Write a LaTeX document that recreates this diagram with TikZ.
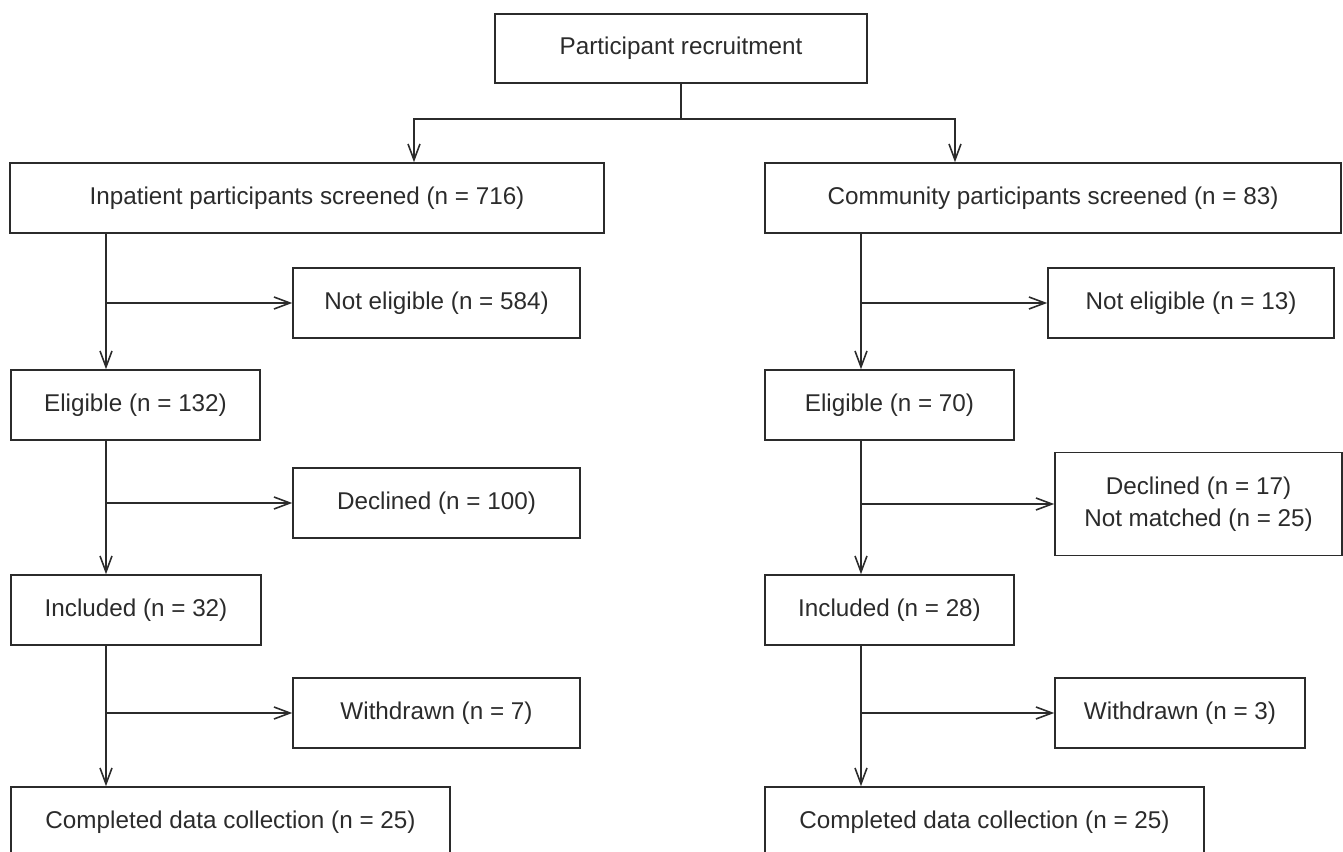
\documentclass[tikz,border=0pt]{standalone}
\usepackage{fontspec}
\setmainfont{Liberation Sans}
\usepackage{xcolor}
\usetikzlibrary{arrows.meta}
\definecolor{inkgray}{HTML}{2B2B2B}

\begin{document}
\begin{tikzpicture}[box/.style={draw=inkgray, line width=0.9pt, text=inkgray, align=center,
      font=\fontsize{13.8}{18.2}\selectfont, minimum height=1.4cm},
    link/.style={draw=inkgray, line width=0.9pt},
    arr/.style={link, -{Straight Barb[length=3.2mm,width=2.4mm]}}]
    \useasboundingbox (0,0) rectangle (26.86,-17.04);
    \node [box, minimum width=7.44cm, minimum height=1.38cm] (rec) at (13.62,-0.97) {Participant recruitment};
    \node [box, minimum width=11.88cm] (inp) at (6.14,-3.96) {Inpatient participants screened (n = 716)};
    \node [box, minimum width=11.52cm] (com) at (21.06,-3.96) {Community participants screened (n = 83)};
    % inpatient side
    \node [box, minimum width=5.74cm] (neL) at (8.73,-6.06) {Not eligible (n = 584)};
    \node [box, minimum width=4.98cm] (elL) at (2.71,-8.10) {Eligible (n = 132)};
    \node [box, minimum width=5.74cm] (deL) at (8.73,-10.06) {Declined (n = 100)};
    \node [box, minimum width=5.00cm] (inL) at (2.72,-12.20) {Included (n = 32)};
    \node [box, minimum width=5.74cm] (wdL) at (8.73,-14.26) {Withdrawn (n = 7)};
    \node [box, minimum width=8.78cm] (coL) at (4.61,-16.44) {Completed data collection (n = 25)};
    % community side
    \node [box, minimum width=5.72cm] (neR) at (23.82,-6.06) {Not eligible (n = 13)};
    \node [box, minimum width=4.98cm] (elR) at (17.79,-8.10) {Eligible (n = 70)};
    \node [box, minimum width=5.74cm, minimum height=2.06cm] (deR) at (23.97,-10.08) {Declined (n = 17)\\Not matched (n = 25)};
    \node [box, minimum width=4.98cm] (inR) at (17.79,-12.20) {Included (n = 28)};
    \node [box, minimum width=5.00cm] (wdR) at (23.60,-14.26) {Withdrawn (n = 3)};
    \node [box, minimum width=8.78cm] (coR) at (19.69,-16.44) {Completed data collection (n = 25)};

    \coordinate (split) at (13.62,-2.38);
    \coordinate (spineL) at (2.12,0);
    \coordinate (spineR) at (17.22,0);
    \draw [link] (rec) -- (split);
    \draw [arr] (split) -| ([xshift=2.14cm]inp.north);
    \draw [arr] (split) -| ([xshift=-1.96cm]com.north);

    \foreach \a/\b/\c/\s in {inp/neL/elL/spineL, elL/deL/inL/spineL, inL/wdL/coL/spineL,
        com/neR/elR/spineR, elR/deR/inR/spineR, inR/wdR/coR/spineR} {
      \draw [arr] (\a.south -| \s) -- (\c.north -| \s);
      \draw [arr] (\b.west -| \s) -- (\b.west);
    }
\end{tikzpicture}
\end{document}
